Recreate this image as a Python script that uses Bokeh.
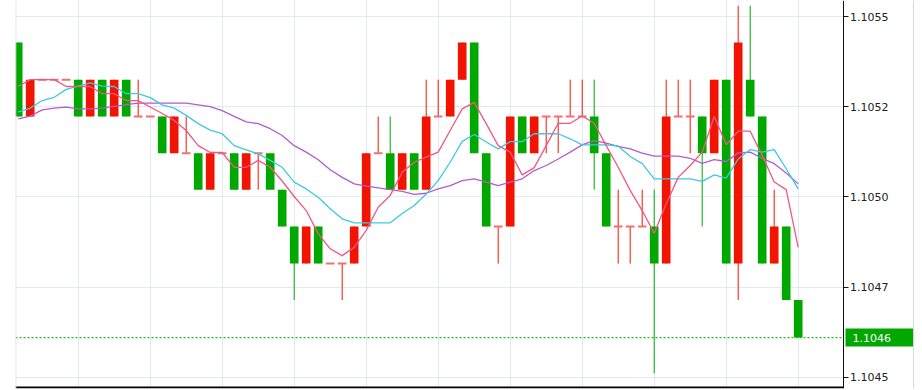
from bokeh.plotting import figure
from bokeh.models import Range1d, FixedTicker, Span, LinearAxis, ColumnDataSource
from bokeh.core.properties import value
from bokeh.embed import file_html
from bokeh.resources import INLINE

# ---------------- data ----------------
bars = list(range(66))

opens = [
    1.105428, 1.105223, 1.105325, 1.105325, 1.105325, 1.105325, 1.105223, 1.105325, 1.105223, 1.105325,
    1.105223, 1.105223, 1.105223, 1.105121, 1.105121, 1.105121, 1.10502, 1.105121, 1.105121, 1.10502,
    1.105121, 1.105121, 1.10502, 1.104918, 1.104815, 1.104918, 1.104815, 1.104815, 1.104815, 1.104918,
    1.105121, 1.105121, 1.10502, 1.105121, 1.10502, 1.105223, 1.105223, 1.105325, 1.105428, 1.105121,
    1.104918, 1.104918, 1.105223, 1.105121, 1.105223, 1.105223, 1.105223, 1.105223, 1.105223, 1.105121,
    1.104918, 1.104918, 1.104918, 1.104918, 1.104815, 1.105223, 1.105223, 1.105223, 1.105121, 1.105325,
    1.104815, 1.105325, 1.105223, 1.104815, 1.104918, 1.104714]

highs = [
    1.105428, 1.105325, 1.105325, 1.105325, 1.105325, 1.105325, 1.105325, 1.105325, 1.105325, 1.105325,
    1.105325, 1.105223, 1.105223, 1.105223, 1.105223, 1.105121, 1.105121, 1.105121, 1.105121, 1.105121,
    1.105121, 1.105121, 1.10502, 1.104918, 1.104918, 1.104918, 1.104815, 1.104815, 1.104918, 1.105121,
    1.105223, 1.105223, 1.105121, 1.105121, 1.105325, 1.105325, 1.105325, 1.105428, 1.105428, 1.105121,
    1.104918, 1.105223, 1.105223, 1.105223, 1.105223, 1.105223, 1.105325, 1.105325, 1.105325, 1.105121,
    1.10502, 1.104918, 1.10502, 1.10502, 1.105325, 1.105325, 1.105325, 1.105223, 1.105325, 1.105325,
    1.10553, 1.10553, 1.105223, 1.10502, 1.104918, 1.104714]

lows = [
    1.105223, 1.105223, 1.105325, 1.105325, 1.105325, 1.105223, 1.105223, 1.105223, 1.105223, 1.105223,
    1.105223, 1.105223, 1.105121, 1.105121, 1.105121, 1.10502, 1.10502, 1.105121, 1.10502, 1.10502,
    1.10502, 1.10502, 1.104918, 1.104714, 1.104815, 1.104815, 1.104815, 1.104714, 1.104815, 1.104918,
    1.105121, 1.10502, 1.10502, 1.10502, 1.10502, 1.105223, 1.105223, 1.105325, 1.105121, 1.104918,
    1.104815, 1.104918, 1.105121, 1.105121, 1.105121, 1.105121, 1.105223, 1.105223, 1.10502, 1.104918,
    1.104815, 1.104815, 1.104918, 1.104511, 1.104815, 1.105223, 1.105121, 1.104918, 1.105121, 1.104815,
    1.104714, 1.105223, 1.104815, 1.104815, 1.104714, 1.10461]

closes = [
    1.105223, 1.105325, 1.105325, 1.105325, 1.105325, 1.105223, 1.105325, 1.105223, 1.105325, 1.105223,
    1.105223, 1.105223, 1.105121, 1.105223, 1.105121, 1.10502, 1.105121, 1.105121, 1.10502, 1.105121,
    1.105121, 1.10502, 1.104918, 1.104815, 1.104918, 1.104815, 1.104815, 1.104815, 1.104918, 1.105121,
    1.105121, 1.10502, 1.105121, 1.10502, 1.105223, 1.105223, 1.105325, 1.105428, 1.105121, 1.104918,
    1.104918, 1.105223, 1.105121, 1.105223, 1.105223, 1.105223, 1.105223, 1.105223, 1.105121, 1.104918,
    1.104918, 1.104918, 1.104918, 1.104815, 1.105223, 1.105223, 1.105223, 1.105121, 1.105325, 1.104815,
    1.105428, 1.105223, 1.104815, 1.104918, 1.104714, 1.10461]

ma_fast = [
    1.105306, 1.105325, 1.105325, 1.105325, 1.105306, 1.105306, 1.105306, 1.105286, 1.105286, 1.105267,
    1.105267, 1.105249, 1.105231, 1.105212, 1.105184, 1.105142, 1.105123, 1.105123, 1.105082, 1.105082,
    1.105101, 1.105082, 1.105044, 1.105001, 1.104962, 1.104898, 1.104856, 1.104837, 1.10486, 1.104907,
    1.104971, 1.105004, 1.105068, 1.105096, 1.10511, 1.105124, 1.105184, 1.105244, 1.105262, 1.105203,
    1.105142, 1.105124, 1.105061, 1.105081, 1.105142, 1.105204, 1.105204, 1.105224, 1.105204, 1.105142,
    1.105082, 1.105018, 1.104962, 1.104899, 1.104981, 1.105054, 1.105087, 1.105124, 1.105223, 1.105145,
    1.105182, 1.105182, 1.105115, 1.105041, 1.10502, 1.10486]

ma_mid = [
    1.105235, 1.105246, 1.105267, 1.105276, 1.105298, 1.105307, 1.105316, 1.105307, 1.105306, 1.105286,
    1.105286, 1.105275, 1.105255, 1.105246, 1.105226, 1.105203, 1.105185, 1.105175, 1.105142, 1.10513,
    1.105119, 1.105101, 1.105082, 1.105041, 1.105022, 1.104999, 1.104967, 1.104939, 1.104928, 1.104928,
    1.104928, 1.104928, 1.104954, 1.104976, 1.105008, 1.105045, 1.105096, 1.105154, 1.105173, 1.105152,
    1.105133, 1.105153, 1.105153, 1.105175, 1.105175, 1.105175, 1.105161, 1.105144, 1.105144, 1.105144,
    1.105141, 1.105112, 1.105092, 1.10505, 1.10505, 1.10505, 1.10505, 1.105043, 1.105061, 1.105052,
    1.105105, 1.105131, 1.105124, 1.105131, 1.105078, 1.105022]

ma_slow = [
    1.105216, 1.105224, 1.105241, 1.105246, 1.105249, 1.105244, 1.105244, 1.105246, 1.105251, 1.105256,
    1.10526, 1.10526, 1.10526, 1.10526, 1.10526, 1.105255, 1.10525, 1.105239, 1.105223, 1.105208,
    1.105203, 1.105189, 1.10517, 1.105142, 1.105124, 1.105103, 1.105075, 1.105054, 1.105036, 1.10503,
    1.105025, 1.10502, 1.105015, 1.105007, 1.10501, 1.105022, 1.105031, 1.105045, 1.10505, 1.105041,
    1.105031, 1.105041, 1.10505, 1.105073, 1.105087, 1.105105, 1.105124, 1.105144, 1.105156, 1.105149,
    1.10514, 1.105133, 1.105121, 1.105113, 1.105113, 1.105113, 1.105107, 1.105093, 1.105103, 1.105098,
    1.105122, 1.105124, 1.105107, 1.105092, 1.105066, 1.105036]

y_ticks = [1.1045, 1.10475, 1.105, 1.10525, 1.1055]
y_tick_labels = ["1.1045", "1.1047", "1.1050", "1.1052", "1.1055"]
time_grid = [5, 11, 17, 23, 29, 35, 41, 47, 53, 59, 65]
last_price = 1.10461
last_price_label = "1.1046"

# ---------------- layout constants ----------------
X0, X_AXIS, X_END = -0.225, 68.775, 75.3583   # frame start, price-axis position, frame end
Y0, Y1 = 1.1044687, 1.1055444
GREEN = "#00a800"
RED = "#f21400"
DOJI = "#f46f6f"
FONT = "DejaVu Sans"

p = figure(width=922, height=390,
           x_range=Range1d(X0, X_END), y_range=Range1d(Y0, Y1),
           x_axis_location=None, y_axis_location=None,
           toolbar_location=None, tools="", output_backend="svg",
           min_border_left=15, min_border_right=0, min_border_top=0, min_border_bottom=2,
           outline_line_color=None, background_fill_color="white", border_fill_color="white")

p.ygrid.ticker = FixedTicker(ticks=y_ticks)
p.xgrid.ticker = FixedTicker(ticks=time_grid)
p.grid.grid_line_color = "#e2e9f0"
p.grid.grid_line_width = 1

# white price-scale area right of the axis (hides grid there)
p.quad(left=[X_AXIS], right=[X_END], bottom=[Y0], top=[Y1], fill_color="white", line_color=None)

# price axis drawn at the right edge of the chart area
ax = LinearAxis(fixed_location=X_AXIS, ticker=FixedTicker(ticks=y_ticks),
                major_label_overrides=dict(zip(y_ticks, y_tick_labels)))
ax.axis_line_color = "#111111"
ax.major_tick_line_color = "#111111"
ax.major_tick_out = 0
ax.major_tick_in = 5
ax.minor_tick_line_color = None
ax.major_label_standoff = -45
ax.major_label_text_font = FONT
ax.major_label_text_font_size = "11px"
ax.major_label_text_color = "#222222"
p.add_layout(ax, "left")

# frame edges
p.add_layout(Span(location=-0.2, dimension="height", line_color="#d4dae0", line_width=1))
p.add_layout(Span(location=74.61, dimension="height", line_color="#d4dae0", line_width=1))
p.segment(x0=[X0], x1=[X_AXIS], y0=[1.1044714], y1=[1.1044714], line_color="#000000", line_width=2)
# last price dotted line
p.segment(x0=[X0], x1=[X_AXIS], y0=[last_price], y1=[last_price], line_color="#22c022",
          line_width=1.3, line_dash="2 2")

# candles
body = dict(x=[], top=[], bottom=[], color=[])
wick = dict(x=[], y0=[], y1=[], color=[])
doji = dict(x0=[], x1=[], y=[])
for i, o, h, l, c in zip(bars, opens, highs, lows, closes):
    col = GREEN if c < o else RED
    wick["x"].append(i); wick["y0"].append(l); wick["y1"].append(h); wick["color"].append(col)
    if c == o:
        doji["x0"].append(i - 0.36); doji["x1"].append(i + 0.36); doji["y"].append(o)
    else:
        body["x"].append(i); body["top"].append(max(o, c)); body["bottom"].append(min(o, c))
        body["color"].append(col)

p.segment(x0="x", x1="x", y0="y0", y1="y1", line_color="color", line_width=1,
          source=ColumnDataSource(wick))
p.vbar(x="x", width=0.72, top="top", bottom="bottom", fill_color="color",
       line_color=None, source=ColumnDataSource(body))
p.segment(x0="x0", x1="x1", y0="y", y1="y", line_color=DOJI, line_width=2,
          source=ColumnDataSource(doji))

# moving averages
p.line(bars, ma_slow, line_color="#b35ccd", line_width=1.3)
p.line(bars, ma_mid, line_color="#3ec9e2", line_width=1.3)
p.line(bars, ma_fast, line_color="#ef5885", line_width=1.3)

# last price tag on the price scale
p.rect(x=[71.775], y=[last_price], width=[5.667], height=[18], height_units="screen",
       fill_color=GREEN, line_color=None)
p.text(x=[69.525], y=[last_price], text=[last_price_label], text_color="white",
       text_font=value(FONT), text_font_size=value("11px"),
       text_align="left", text_baseline="middle")

open("out.html", "w").write(file_html(p, INLINE))
